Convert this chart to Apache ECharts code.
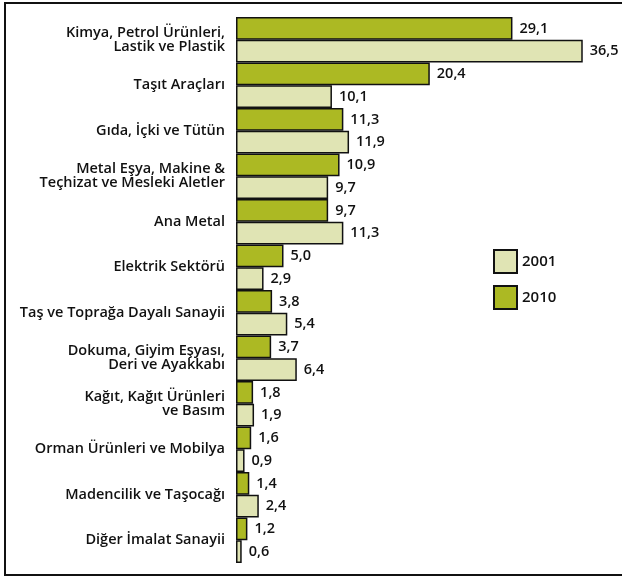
<!DOCTYPE html>
<html><head><meta charset="utf-8">
<script src="https://cdn.jsdelivr.net/npm/echarts@6/dist/echarts.min.js"></script>
<style>html,body{margin:0;padding:0;background:#fff}#c{width:622px;height:577px}</style>
</head><body><div id="c"></div>
<script>
var categories = [
  'Kimya, Petrol Ürünleri,\nLastik ve Plastik',
  'Taşıt Araçları',
  'Gıda, İçki ve Tütün',
  'Metal Eşya, Makine &\nTeçhizat ve Mesleki Aletler',
  'Ana Metal',
  'Elektrik Sektörü',
  'Taş ve Toprağa Dayalı Sanayii',
  'Dokuma, Giyim Eşyası,\nDeri ve Ayakkabı',
  'Kağıt, Kağıt Ürünleri\nve Basım',
  'Orman Ürünleri ve Mobilya',
  'Madencilik ve Taşocağı',
  'Diğer İmalat Sanayii'
];
var values2010 = [29.1, 20.4, 11.3, 10.9, 9.7, 5.0, 3.8, 3.7, 1.8, 1.6, 1.4, 1.2];
var values2001 = [36.5, 10.1, 11.9, 9.7, 11.3, 2.9, 5.4, 6.4, 1.9, 0.9, 2.4, 0.6];
var seriesNames = ['2010', '2001'];

var font = '"Open Sans", Roboto, sans-serif';
var chart = echarts.init(document.getElementById('c'), null, {renderer: 'canvas'});
function lbl(){
  return {show: true, position: 'right', distance: 7, color: '#111', fontFamily: font, fontSize: 14.5, fontWeight: 600,
    formatter: function(p){ return p.value.toFixed(1).replace('.', ','); }};
}
chart.setOption({
  animation: false,
  backgroundColor: '#fff',
  graphic: [{type: 'rect', shape: {x: 5, y: 3, width: 640, height: 572}, style: {fill: 'none', stroke: '#111', lineWidth: 2}, silent: true}],
  grid: {left: 236, top: 17, width: 380, height: 546},
  legend: {
    data: ['2001', '2010'], orient: 'vertical', left: 488, top: 244,
    itemWidth: 23, itemHeight: 23, itemGap: 11, icon: 'rect',
    textStyle: {fontFamily: font, fontSize: 15, fontWeight: 600, color: '#111', padding: [0,0,0,0]}
  },
  xAxis: {type: 'value', min: 0, max: 40, show: false, splitLine: {show: false}},
  yAxis: {
    type: 'category', data: categories, inverse: true,
    axisLine: {show: false}, axisTick: {show: false},
    axisLabel: {fontFamily: font, fontSize: 14.5, fontWeight: 600, color: '#111', margin: 11, lineHeight: 14, align: 'right'}
  },
  series: [
    {name: seriesNames[0], type: 'bar', data: values2010, barGap: '0%', barCategoryGap: '0%',
     itemStyle: {color: '#acb923', borderColor: '#111', borderWidth: 1.5}, label: lbl()},
    {name: seriesNames[1], type: 'bar', data: values2001, barGap: '0%', barCategoryGap: '0%',
     itemStyle: {color: '#e0e4b4', borderColor: '#111', borderWidth: 1.5}, label: lbl()}
  ]
});
</script></body></html>
